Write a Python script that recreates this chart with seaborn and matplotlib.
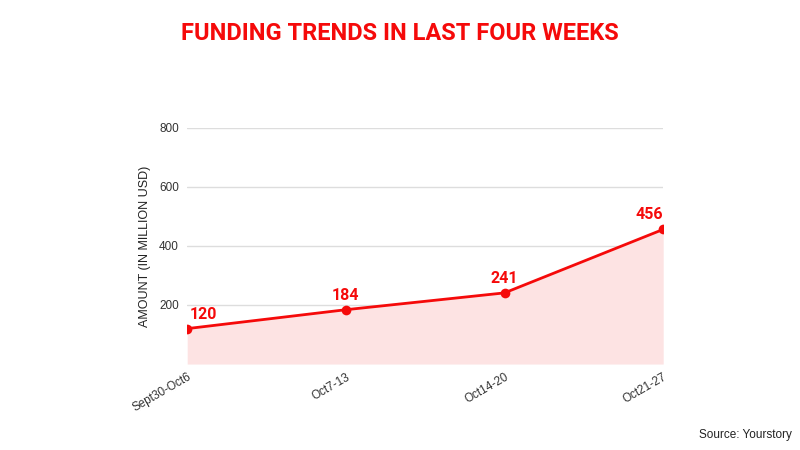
import matplotlib
matplotlib.use("Agg")
import matplotlib.pyplot as plt
import seaborn as sns
import pandas as pd

# Données
weeks = ["Sept30-Oct6", "Oct7-13", "Oct14-20", "Oct21-27"]
amounts = [120, 184, 241, 456]
yticks = [200, 400, 600, 800]

red = "#f50a0a"
fill = "#fde3e3"

sns.set_theme(style="white")
plt.rcParams['font.family'] = ['Liberation Sans', 'DejaVu Sans']

df = pd.DataFrame({"week": weeks, "amount": amounts})
df["pos"] = range(len(weeks))

fig = plt.figure(figsize=(8, 4.5), dpi=100)
ax = fig.add_axes([0.234, 0.191, 0.595, 0.525])

ax.fill_between(df["pos"], df["amount"], 0, color=fill, linewidth=0, zorder=1)
sns.lineplot(data=df, x="pos", y="amount", ax=ax, color=red, linewidth=2,
             marker="o", markersize=7, markeredgewidth=0, zorder=3)

# étiquettes : la première à droite du point, la dernière alignée à droite
n = len(weeks)
for x, y in zip(df["pos"], df["amount"]):
    if x == 0:
        ha, dx = "left", 2
    elif x == n - 1:
        ha, dx = "right", 0
    else:
        ha, dx = "center", 0
    ax.annotate(str(y), (x, y), xytext=(dx, 5), textcoords="offset points",
                ha=ha, va="bottom", color=red, fontsize=11.5,
                fontweight="bold", family=['Roboto', 'DejaVu Sans'],
                annotation_clip=False)

ax.set_xlim(0, n - 1)
ax.set_ylim(0, 800)
ax.set_yticks(yticks)
ax.set_xticks(df["pos"])
ax.set_xticklabels(weeks, rotation=30, ha="right", rotation_mode="anchor",
                   fontsize=8.5, color="#333333")
ax.tick_params(axis="y", labelsize=8.5, labelcolor="#333333", length=0, pad=6)
ax.tick_params(axis="x", length=0, pad=5)
ax.grid(axis="y", color="#dddddd", linewidth=1)
ax.set_axisbelow(True)
for s in ax.spines.values():
    s.set_visible(False)

ax.set_xlabel("")
ax.set_ylabel("AMOUNT (IN MILLION USD)", fontsize=9, color="#222222", labelpad=6)

fig.text(0.5, 0.925, "FUNDING TRENDS IN LAST FOUR WEEKS", ha="center", va="center",
         color=red, fontsize=17, fontweight="bold",
         family=['Roboto', 'DejaVu Sans'])
fig.text(0.99, 0.033, "Source: Yourstory", ha="right", va="center",
         fontsize=8.5, color="#222222")

fig.savefig("out.png", dpi=100)
